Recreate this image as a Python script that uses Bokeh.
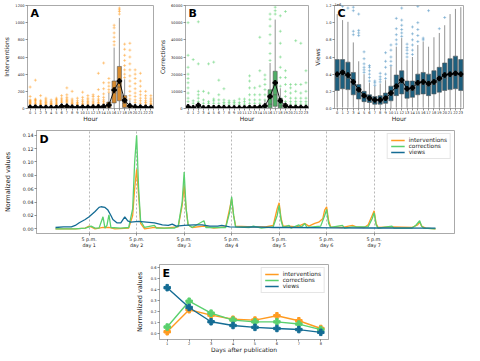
from bokeh.plotting import figure
from bokeh.layouts import column, row, Spacer
from bokeh.models import FixedTicker, Label, Range1d, Title
from bokeh.embed import file_html
from bokeh.resources import INLINE

FONT = "DejaVu Sans"
HOURS = list(range(24))

ORANGE = "#ff9b21"
GREEN = "#5ad06e"
BLUE = "#146c94"
BOX_A = "#d98c2f"
BOX_B = "#4fae66"
BOX_C = "#1d5f7e"

# ---------------- Panel A: interventions per hour ----------------
a_q1 = [1, 1, 1, 1, 1, 1, 2, 2, 1, 1, 1, 1, 1, 1, 2, 8, 65, 90, 12, 4, 2, 1, 1, 1]
a_med = [5, 5, 4, 4, 4, 4, 8, 8, 5, 4, 5, 5, 6, 6, 8, 30, 180, 250, 60, 15, 8, 6, 5, 5]
a_q3 = [18, 18, 15, 15, 14, 15, 28, 28, 18, 15, 18, 18, 20, 22, 26, 75, 320, 490, 150, 40, 25, 20, 18, 18]
a_whi = [42, 42, 36, 38, 35, 38, 65, 62, 45, 38, 42, 45, 48, 52, 58, 180, 710, 1055, 340, 95, 60, 50, 45, 42]
a_mean = [14, 15, 11, 11, 10, 11, 25, 25, 15, 12, 14, 14, 16, 18, 22, 40, 215, 320, 95, 30, 18, 15, 13, 12]
a_fliers = [
    [50, 60, 70, 80, 90, 100, 140, 250],
    [50, 60, 75, 90, 100, 110, 330],
    [45, 55, 65, 80, 95, 150],
    [45, 55, 70, 85, 100, 120],
    [45, 55, 65, 80, 100],
    [45, 60, 75, 90, 105, 120],
    [70, 85, 100, 120, 150],
    [65, 80, 95, 110, 130, 160, 240],
    [50, 60, 75, 90, 110, 200],
    [45, 55, 70, 90, 120],
    [45, 60, 80, 100, 130, 190],
    [50, 65, 80, 100, 120, 150],
    [50, 65, 85, 110, 140, 160],
    [55, 70, 90, 110, 140, 220, 410],
    [60, 80, 100, 130, 170, 230, 300, 530],
    [190, 220, 260, 300, 350],
    [740, 780, 830, 880, 940, 970],
    [1100, 1130, 1150, 1170],
    [360, 400, 450, 500, 560, 620, 690, 750],
    [110, 150, 200, 260, 320, 380, 450, 520, 600, 680, 760],
    [70, 100, 140, 180, 230, 290, 350, 400, 450],
    [60, 90, 120, 160, 200, 260, 320, 410],
    [50, 70, 90, 120, 150, 200],
    [45, 60, 80, 100, 120, 150],
]

# ---------------- Panel B: corrections per hour ----------------
b_q1 = [50, 30, 40, 30, 30, 30, 40, 40, 30, 30, 30, 30, 40, 40, 50, 150, 400, 1300, 200, 80, 50, 50, 50, 50]
b_med = [250, 150, 200, 150, 150, 150, 200, 200, 150, 150, 150, 150, 200, 200, 250, 500, 2500, 8000, 1500, 400, 250, 200, 200, 200]
b_q3 = [900, 600, 800, 500, 500, 500, 700, 700, 500, 500, 500, 500, 700, 700, 900, 2000, 10900, 21700, 6000, 1500, 900, 800, 800, 800]
b_whi = [2200, 1500, 2000, 1300, 1300, 1300, 1800, 1800, 1300, 1300, 1300, 1300, 1800, 1800, 2200, 4800, 26500, 51800, 11800, 3500, 2200, 2000, 2000, 2000]
b_mean = [950, 400, 1900, 350, 450, 450, 500, 450, 300, 300, 300, 300, 500, 500, 700, 1500, 7000, 15000, 4500, 1700, 600, 600, 600, 550]
b_fliers = [
    [4000, 6000, 9000, 12000, 15000, 17500, 20000, 24000, 31000, 50000],
    [3000, 4500, 28500],
    [4000, 6000, 8000, 10000, 26000, 50500],
    [3000, 5000, 10000],
    [3000, 4000, 9000, 26000],
    [3000, 4500, 5500, 27000],
    [3000, 5000, 8000, 16500],
    [2500, 3500, 5000, 11500],
    [2500, 3500, 4500],
    [2500, 3500, 4500],
    [2500, 3500, 5500],
    [2500, 4000, 5500],
    [3000, 5000, 8000, 12000, 16000, 19000],
    [3000, 5000, 8000, 12000],
    [3000, 5000, 8000, 13000, 22000, 41500],
    [5000, 8000, 11000, 14000, 17000, 19500],
    [28000, 32000, 38000, 43000, 48000, 52000, 55000],
    [55000, 57000, 59000],
    [13000, 18000, 24000, 30000, 38000, 45000, 54000],
    [4000, 7000, 10000, 14000, 18000, 22000, 56500],
    [2500, 4000, 6000, 9000, 12000, 14000],
    [2500, 4000, 6000, 10000, 14000, 39500],
    [2500, 4000, 6000, 9000, 14000, 38000],
    [2500, 4000, 6000, 10000, 15000, 22000],
]

# ---------------- Panel C: views per hour (x 1e6) ----------------
c_wlo = [0.01, 0.01, 0.01, 0.01, 0.005, 0.005, 0.005, 0.005, 0.005, 0.005, 0.005, 0.01, 0.01, 0.01, 0.01, 0.01, 0.01, 0.01, 0.01, 0.01, 0.01, 0.01, 0.01, 0.01]
c_q1 = [0.21, 0.23, 0.22, 0.16, 0.11, 0.08, 0.07, 0.05, 0.05, 0.06, 0.09, 0.15, 0.17, 0.12, 0.13, 0.16, 0.17, 0.15, 0.17, 0.19, 0.21, 0.22, 0.23, 0.21]
c_med = [0.36, 0.38, 0.35, 0.27, 0.19, 0.13, 0.11, 0.09, 0.09, 0.11, 0.16, 0.24, 0.29, 0.20, 0.21, 0.27, 0.28, 0.26, 0.28, 0.31, 0.35, 0.37, 0.39, 0.37]
c_q3 = [0.57, 0.57, 0.54, 0.42, 0.28, 0.20, 0.16, 0.14, 0.15, 0.18, 0.26, 0.39, 0.44, 0.32, 0.32, 0.40, 0.42, 0.40, 0.44, 0.48, 0.53, 0.58, 0.61, 0.57]
c_whi = [1.10, 1.03, 1.01, 0.77, 0.55, 0.40, 0.30, 0.26, 0.29, 0.33, 0.49, 0.72, 0.82, 0.57, 0.60, 0.74, 0.78, 0.72, 0.83, 0.88, 0.97, 1.10, 1.16, 1.18]
c_mean = [0.40, 0.42, 0.39, 0.31, 0.22, 0.15, 0.12, 0.10, 0.10, 0.12, 0.18, 0.26, 0.33, 0.23, 0.24, 0.30, 0.31, 0.29, 0.31, 0.35, 0.39, 0.40, 0.41, 0.40]
c_fliers = [
    [],
    [1.19],
    [1.17],
    [0.86, 0.90, 1.14, 1.18],
    [0.85, 0.88, 0.91, 1.10],
    [0.42, 0.45, 0.48, 0.52, 0.58, 0.66],
    [0.32, 0.36, 0.40, 0.44, 0.48, 0.50],
    [0.27, 0.30, 0.32],
    [0.31, 0.34, 0.37, 0.41],
    [0.35, 0.40, 0.48, 0.55, 0.65],
    [0.50, 0.55, 0.60, 0.68, 0.74],
    [0.75, 0.80, 0.86, 0.93, 1.05],
    [0.84, 0.88, 0.92, 0.97, 1.03, 1.17],
    [0.60, 0.64, 0.68, 0.71, 0.75],
    [0.63, 0.68, 0.74, 0.80, 0.87, 0.95],
    [0.78, 0.85, 0.92, 1.00, 1.19],
    [0.80, 0.82],
    [1.14],
    [],
    [0.93],
    [1.06],
    [],
    [],
    [],
]

# ---------------- Panel D: normalized hourly values over 8 days ----------------
d_int_h = [0, 10, 15, 17, 18, 20, 24, 27, 30, 37, 39, 40, 41, 42, 43, 45, 50, 55, 62, 64, 65, 66, 67, 69, 75, 80,
           86, 88, 89, 90, 91, 100, 106, 110, 112, 113, 114, 115, 118, 122, 126, 128, 131, 133, 135, 136, 137, 138,
           139, 145, 150, 152, 156, 158, 160, 161, 162, 163, 170, 180, 183, 184, 185, 187, 192]
d_int_v = [0.0, 0.0, 0.001, 0.004, 0.003, 0.0, 0.002, 0.002, 0.0, 0.001, 0.02, 0.06, 0.089, 0.05, 0.008, 0.0, 0.002,
           0.001, 0.003, 0.035, 0.065, 0.03, 0.006, 0.002, 0.004, 0.001, 0.003, 0.03, 0.045, 0.02, 0.004, 0.003,
           0.003, 0.005, 0.03, 0.039, 0.015, 0.004, 0.004, 0.003, 0.008, 0.004, 0.008, 0.01, 0.015, 0.028, 0.033,
           0.012, 0.003, 0.002, 0.005, 0.003, 0.002, 0.006, 0.02, 0.027, 0.008, 0.002, 0.003, 0.002, 0.006, 0.010,
           0.004, 0.001, 0.0]
d_cor_h = [0, 10, 15, 17, 18, 20, 22, 24, 25, 26, 27, 28, 33, 37, 39, 40, 41, 42, 43, 45, 50, 51, 60, 62, 64, 65,
           66, 67, 69, 75, 76, 86, 88, 89, 90, 91, 98, 100, 104, 110, 112, 113, 114, 115, 118, 119, 123, 124, 126,
           127, 134, 136, 137, 138, 139, 145, 146, 150, 158, 160, 161, 162, 163, 170, 171, 180, 182, 184, 185, 186,
           192]
d_cor_v = [0.0, 0.0, 0.001, 0.003, 0.004, 0.001, 0.001, 0.018, 0.001, 0.005, 0.021, 0.002, 0.001, 0.002, 0.03, 0.1,
           0.14, 0.06, 0.012, 0.002, 0.005, 0.001, 0.001, 0.004, 0.04, 0.085, 0.03, 0.006, 0.002, 0.012, 0.002,
           0.002, 0.025, 0.048, 0.02, 0.003, 0.002, 0.004, 0.001, 0.003, 0.02, 0.035, 0.012, 0.002, 0.005, 0.001,
           0.006, 0.002, 0.008, 0.002, 0.004, 0.02, 0.029, 0.008, 0.002, 0.005, 0.001, 0.003, 0.003, 0.015, 0.024,
           0.006, 0.001, 0.004, 0.001, 0.001, 0.005, 0.012, 0.004, 0.001, 0.0]
d_view_h = [0, 4, 8, 10, 12, 15, 17, 20, 22, 23, 25, 26.5, 28, 29, 31, 33, 35, 36.5, 38, 42, 46, 50, 54, 57, 59, 61,
            65, 70, 74, 78, 82, 84, 88, 95, 100, 110, 120, 140, 160, 192]
d_view_v = [0.002, 0.003, 0.003, 0.005, 0.009, 0.014, 0.018, 0.026, 0.032, 0.033, 0.032, 0.028, 0.02, 0.014, 0.009,
            0.009, 0.018, 0.012, 0.01, 0.011, 0.01, 0.009, 0.006, 0.005, 0.007, 0.004, 0.005, 0.006, 0.006, 0.004,
            0.004, 0.005, 0.003, 0.0025, 0.003, 0.002, 0.002, 0.0015, 0.0012, 0.001]
d_tick_hours = [17, 41, 65, 89, 113, 137, 161]
d_tick_labels = ["5 p.m.\nday 1", "5 p.m.\nday 2", "5 p.m.\nday 3", "5 p.m.\nday 4",
                 "5 p.m.\nday 5", "5 p.m.\nday 6", "5 p.m.\nday 7"]

# ---------------- Panel E: normalized values per day ----------------
e_days = [1, 2, 3, 4, 5, 6, 7, 8]
e_int = [0.02, 0.22, 0.171, 0.134, 0.126, 0.165, 0.12, 0.05]
e_cor = [0.063, 0.297, 0.189, 0.126, 0.11, 0.11, 0.09, 0.04]
e_view = [0.42, 0.24, 0.111, 0.077, 0.06, 0.05, 0.04, 0.015]

AX = "#aaaaaa"
TXT = "#222222"


def style(p, tick_fs, label_fs):
    p.outline_line_color = AX
    p.background_fill_color = "white"
    p.border_fill_color = "white"
    p.xgrid.visible = False
    p.ygrid.visible = False
    for ax in p.axis:
        ax.axis_line_color = AX
        ax.major_tick_line_color = "#444444"
        ax.major_tick_line_width = 0.6
        ax.minor_tick_line_color = None
        ax.major_tick_out = 2
        ax.major_tick_in = 0
        ax.major_label_standoff = 1
        ax.major_label_text_font = FONT
        ax.major_label_text_font_size = tick_fs
        ax.major_label_text_color = TXT
        ax.axis_label_text_font = FONT
        ax.axis_label_text_font_style = "normal"
        ax.axis_label_text_font_size = label_fs
        ax.axis_label_text_color = TXT
        ax.axis_label_standoff = 2
    p.xaxis.major_label_standoff = 0
    p.xaxis.axis_label_standoff = -2


def letter(p, txt, x, y, xo=3, yo=-1):
    p.add_layout(Label(x=x, y=y, x_offset=xo, y_offset=yo, text=txt, text_font=FONT,
                       text_font_style="bold", text_font_size="11px", text_baseline="top",
                       text_color="black"))


def boxpanel(width, ymax, q1, med, q3, whi, mean, fliers, wlo, box_col, fl_col, ylabel,
             yticks, lb, rb, top=4, fmt=None):
    p = figure(width=width, height=124, x_range=Range1d(-0.5, 23.5), y_range=Range1d(0, ymax),
               output_backend="svg", toolbar_location=None,
               min_border_left=lb, min_border_right=rb, min_border_top=top, min_border_bottom=13)
    style(p, "3.6px", "6px")
    p.xaxis.ticker = FixedTicker(ticks=HOURS)
    p.yaxis.ticker = FixedTicker(ticks=yticks)
    if fmt:
        p.yaxis.major_label_overrides = fmt
    p.xaxis.axis_label = "Hour"
    p.yaxis.axis_label = ylabel
    fx, fy = [], []
    for h, vals in zip(HOURS, fliers):
        for v in vals:
            fx.append(h)
            fy.append(v)
    p.scatter(fx, fy, marker="cross", size=3, line_color=fl_col, line_alpha=0.6, line_width=0.8)
    p.segment(HOURS, q3, HOURS, whi, line_color="#777777", line_width=0.8)
    p.segment(HOURS, wlo, HOURS, q1, line_color="#777777", line_width=0.8)
    p.vbar(x=HOURS, width=0.78, bottom=q1, top=q3, fill_color=box_col, line_color="#555555",
           line_width=0.6)
    p.segment([h - 0.39 for h in HOURS], med, [h + 0.39 for h in HOURS], med,
              line_color="#555555", line_width=0.6)
    p.line(HOURS, mean, line_color="black", line_width=0.9)
    p.scatter(HOURS, mean, marker="plus", size=4.5, fill_color="black", line_color="black")
    return p


zeros = [0] * 24
pa = boxpanel(156, 1200, a_q1, a_med, a_q3, a_whi, a_mean, a_fliers, zeros, BOX_A, ORANGE,
              "Interventions", [0, 200, 400, 600, 800, 1000, 1200], 22, 3)
letter(pa, "A", -0.5, 1200)

pb = boxpanel(154, 60000, b_q1, b_med, b_q3, b_whi, b_mean, b_fliers, zeros, BOX_B, GREEN,
              "Corrections", [0, 10000, 20000, 30000, 40000, 50000, 60000], 24, 2)
letter(pb, "B", -0.5, 60000)

c_ticks = [0.0, 0.2, 0.4, 0.6, 0.8, 1.0, 1.2]
pc = boxpanel(154, 1.2, c_q1, c_med, c_q3, c_whi, c_mean, c_fliers, c_wlo, BOX_C, "#4a8fbf",
              "Views", c_ticks, 20, 1, top=0, fmt={t: "%.1f" % t for t in c_ticks})
letter(pc, "C", -0.5, 1.2)
pc.add_layout(Title(text="1e6", text_font=FONT, text_font_size="3.6px", text_font_style="normal",
                    text_color=TXT, align="left", standoff=0, offset=0), "above")

# ---------------- D ----------------
pd_ = figure(width=464, height=128, x_range=Range1d(-9.6, 201.6), y_range=Range1d(-0.007, 0.147),
             output_backend="svg", toolbar_location=None,
             min_border_left=36, min_border_right=10, min_border_top=6, min_border_bottom=19)
style(pd_, "4.8px", "6.5px")
pd_.xaxis.ticker = FixedTicker(ticks=d_tick_hours)
pd_.xaxis.major_label_overrides = {h: lab for h, lab in zip(d_tick_hours, d_tick_labels)}
pd_.xaxis.major_label_standoff = 1
d_yt = [0.0, 0.02, 0.04, 0.06, 0.08, 0.10, 0.12, 0.14]
pd_.yaxis.ticker = FixedTicker(ticks=d_yt)
pd_.yaxis.major_label_overrides = {t: "%.2f" % t for t in d_yt}
pd_.yaxis.axis_label = "Normalized values"
pd_.yaxis.axis_label_standoff = 8
pd_.xgrid.visible = True
pd_.xgrid.grid_line_color = "#999999"
pd_.xgrid.grid_line_dash = "2 2"
pd_.xgrid.grid_line_width = 0.7
pd_.line(d_int_h, d_int_v, line_color=ORANGE, line_width=1.3, legend_label="interventions")
pd_.line(d_cor_h, d_cor_v, line_color=GREEN, line_width=1.3, legend_label="corrections")
pd_.line(d_view_h, d_view_v, line_color=BLUE, line_width=1.3, legend_label="views")
letter(pd_, "D", -9.6, 0.147, xo=3, yo=-2)


def style_legend(p, fs):
    lg = p.legend[0]
    lg.location = "top_right"
    lg.label_text_font = FONT
    lg.label_text_font_size = fs
    lg.label_text_color = TXT
    lg.glyph_width = 14
    lg.glyph_height = 6
    lg.label_height = 6
    lg.spacing = 0
    lg.padding = 3
    lg.margin = 3
    lg.label_standoff = 4
    lg.border_line_color = "#cccccc"
    lg.background_fill_alpha = 0.9


style_legend(pd_, "5.8px")

# ---------------- E ----------------
pe = figure(width=205, height=103, x_range=Range1d(0.65, 8.35), y_range=Range1d(-0.05, 0.63),
            output_backend="svg", toolbar_location=None,
            min_border_left=27, min_border_right=9, min_border_top=12, min_border_bottom=14)
style(pe, "3.6px", "6px")
pe.xaxis.ticker = FixedTicker(ticks=e_days)
e_yt = [0.0, 0.1, 0.2, 0.3, 0.4, 0.5, 0.6]
pe.yaxis.ticker = FixedTicker(ticks=e_yt)
pe.yaxis.major_label_overrides = {t: "%.1f" % t for t in e_yt}
pe.xaxis.axis_label = "Days after publication"
pe.yaxis.axis_label = "Normalized values"
pe.yaxis.axis_label_text_font_size = "6.5px"
pe.yaxis.axis_label_standoff = 4
for vals, col, name in [(e_int, ORANGE, "interventions"), (e_cor, GREEN, "corrections"),
                        (e_view, BLUE, "views")]:
    pe.line(e_days, vals, line_color=col, line_width=1.4, legend_label=name)
    pe.scatter(e_days, vals, marker="plus", size=6.5, fill_color=col, line_color=col)
letter(pe, "E", 0.65, 0.63, xo=3, yo=-2)
style_legend(pe, "5.8px")

layout = column(row(pa, pb, pc), pd_, row(Spacer(width=132, height=103), pe))

open("out.html", "w").write(file_html(layout, INLINE))
